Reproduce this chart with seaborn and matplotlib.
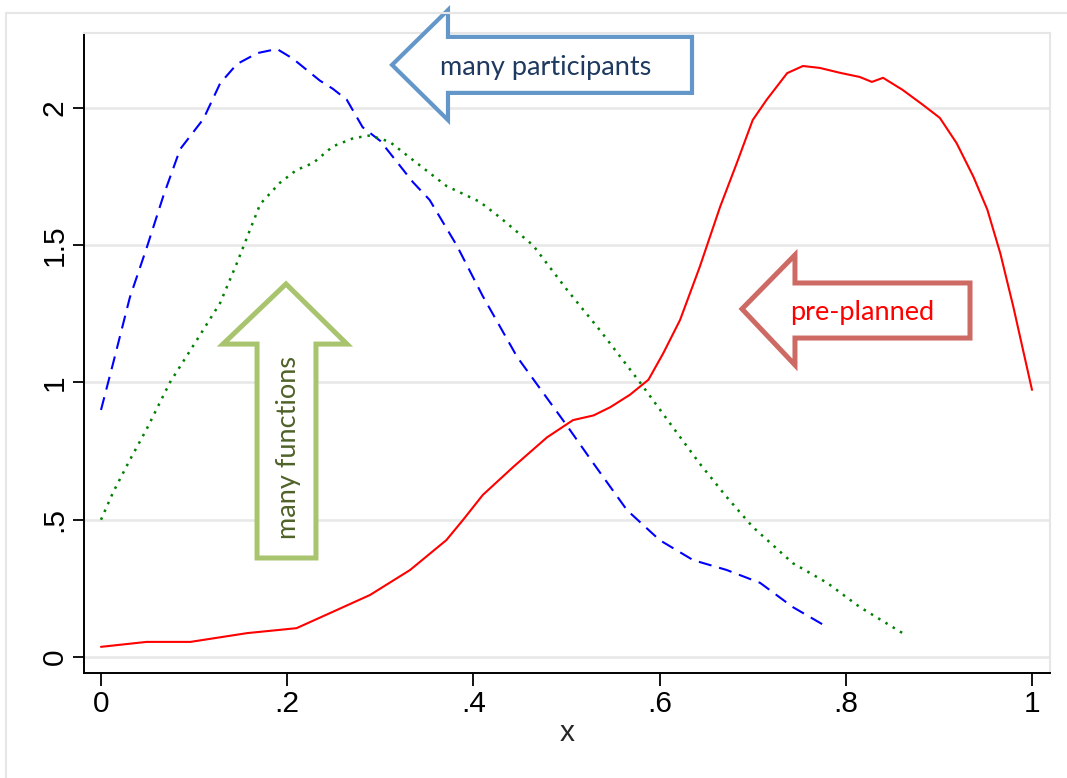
import matplotlib
matplotlib.use("Agg")
import matplotlib.pyplot as plt
from matplotlib.patches import Polygon, Rectangle
import numpy as np
import pandas as pd
import seaborn as sns

# ---- density curves -------------------------------------------------------
red_x = [0, 0.049, 0.096, 0.157, 0.21, 0.246, 0.289, 0.332, 0.371, 0.389, 0.41,
         0.443, 0.479, 0.507, 0.529, 0.547, 0.568, 0.588, 0.604, 0.622, 0.643,
         0.665, 0.683, 0.70, 0.715, 0.737, 0.754, 0.772, 0.794, 0.815, 0.828,
         0.84, 0.861, 0.883, 0.901, 0.919, 0.937, 0.952, 0.966, 0.98, 1.0]
red_y = [0.037, 0.055, 0.055, 0.087, 0.105, 0.16, 0.226, 0.317, 0.426, 0.50, 0.59,
         0.693, 0.80, 0.863, 0.88, 0.91, 0.955, 1.01, 1.107, 1.228, 1.42,
         1.64, 1.80, 1.956, 2.03, 2.127, 2.153, 2.146, 2.128, 2.113, 2.095,
         2.11, 2.066, 2.011, 1.964, 1.872, 1.75, 1.63, 1.47, 1.275, 0.973]

blue_x = [0, 0.013, 0.031, 0.049, 0.067, 0.085, 0.110, 0.128, 0.146, 0.168, 0.189,
          0.206, 0.235, 0.249, 0.264, 0.281, 0.30, 0.335, 0.353, 0.382, 0.41,
          0.447, 0.475, 0.50, 0.529, 0.565, 0.60, 0.636, 0.672, 0.708, 0.743, 0.776]
blue_y = [0.90, 1.07, 1.31, 1.49, 1.68, 1.85, 1.96, 2.09, 2.16, 2.20, 2.215,
          2.18, 2.10, 2.07, 2.03, 1.93, 1.88, 1.73, 1.665, 1.50, 1.315,
          1.093, 0.962, 0.845, 0.705, 0.535, 0.426, 0.353, 0.317, 0.27, 0.182, 0.117]

green_x = [0, 0.013, 0.031, 0.049, 0.074, 0.103, 0.128, 0.146, 0.157, 0.171, 0.192,
           0.21, 0.228, 0.249, 0.271, 0.289, 0.31, 0.339, 0.371, 0.407, 0.429,
           0.464, 0.50, 0.536, 0.579, 0.611, 0.643, 0.672, 0.70, 0.743, 0.78,
           0.815, 0.861]
green_y = [0.5, 0.60, 0.718, 0.83, 1.0, 1.155, 1.29, 1.435, 1.53, 1.65, 1.727,
           1.774, 1.80, 1.86, 1.89, 1.90, 1.877, 1.80, 1.716, 1.658, 1.60,
           1.50, 1.34, 1.19, 1.0, 0.852, 0.705, 0.583, 0.474, 0.342, 0.27,
           0.182, 0.087]

x_ticks = [0, 0.2, 0.4, 0.6, 0.8, 1.0]
x_tick_labels = ["0", ".2", ".4", ".6", ".8", "1"]
y_ticks = [0, 0.5, 1, 1.5, 2]
y_tick_labels = ["0", ".5", "1", "1.5", "2"]

# ---- style ----------------------------------------------------------------
sns.set_theme(style="white")
plt.rcParams["font.family"] = ["Liberation Sans", "DejaVu Sans"]

W, H = 1067, 778
fig = plt.figure(figsize=(W / 100, H / 100), dpi=100)
fig.patch.set_facecolor("white")

# outer graph region frame
fig.add_artist(Rectangle((6 / W, -0.05), 1.2, 1 - 13 / H + 0.05,
                         transform=fig.transFigure, fill=False,
                         edgecolor="#E6E6E6", lw=1.5))

ax = fig.add_axes([84 / W, 1 - 673 / H, (1050 - 84) / W, (673 - 33) / H])
ax.set_facecolor("white")

ax.set_xlim(-0.01826, 1.01933)
ax.set_ylim(-0.0583, 2.2732)

for yv in y_ticks:
    ax.axhline(yv, color="#E8E8E8", lw=1.9, zorder=0)

sns.lineplot(x=red_x, y=red_y, ax=ax, color="#FF0000", lw=1.5,
             estimator=None, sort=False, zorder=3)
sns.lineplot(x=blue_x, y=blue_y, ax=ax, color="#0000FF", lw=1.5,
             linestyle=(0, (6.3, 3.8)), estimator=None, sort=False, zorder=3)
sns.lineplot(x=green_x, y=green_y, ax=ax, color="#008000", lw=1.8,
             linestyle=(0, (1.0, 2.4)), estimator=None, sort=False, zorder=3)

ax.set_xticks(x_ticks)
ax.set_xticklabels(x_tick_labels)
ax.set_yticks(y_ticks)
ax.set_yticklabels(y_tick_labels, rotation=90, va="center")
ax.tick_params(axis="both", which="major", labelsize=21.5, colors="black",
               direction="out", width=1.3)
ax.tick_params(axis="y", length=8, pad=3, left=True)
ax.tick_params(axis="x", length=9, pad=3, bottom=True)
ax.set_xlabel("x", fontsize=21.5, labelpad=1)
ax.set_ylabel("")

for side in ("left", "bottom"):
    ax.spines[side].set_color("black")
    ax.spines[side].set_linewidth(1.4)
for side in ("top", "right"):
    ax.spines[side].set_color("#E6E6E6")
    ax.spines[side].set_linewidth(1.5)

# ---- block arrows ----------------------------------------------------------
def block_arrow(verts, edge, lw):
    poly = Polygon(verts, closed=True, facecolor="white", edgecolor=edge,
                   lw=lw, joinstyle="miter", clip_on=False, zorder=5)
    ax.add_patch(poly)

label_font = ["Lato", "DejaVu Sans"]

# left arrow: many participants
block_arrow([(0.3126, 2.157), (0.3727, 2.357), (0.3727, 2.259), (0.6348, 2.259),
             (0.6348, 2.055), (0.3727, 2.055), (0.3727, 1.956)], "#6497C9", 3.0)
ax.text(0.478, 2.149, "many participants", color="#1F3A60", fontsize=19.5,
        family=label_font, ha="center", va="center", zorder=6, clip_on=False)

# up arrow: many functions
block_arrow([(0.1987, 1.359), (0.2642, 1.140), (0.2309, 1.140), (0.2309, 0.3607),
             (0.1676, 0.3607), (0.1676, 1.140), (0.131, 1.140)], "#A9C46E", 3.6)
ax.text(0.2009, 0.765, "many functions", color="#4F6228", fontsize=19.5,
        family=label_font, rotation=90, ha="center", va="center", zorder=6)

# left arrow: pre-planned
block_arrow([(0.6885, 1.268), (0.7454, 1.4645), (0.7454, 1.3625), (0.9334, 1.3625),
             (0.9334, 1.162), (0.7454, 1.162), (0.7454, 1.0638)], "#CD6A64", 3.6)
ax.text(0.8174, 1.2568, "pre-planned", color="#FF0000", fontsize=19.5,
        family=label_font, ha="center", va="center", zorder=6)

fig.savefig("out.png", dpi=100, facecolor="white")
